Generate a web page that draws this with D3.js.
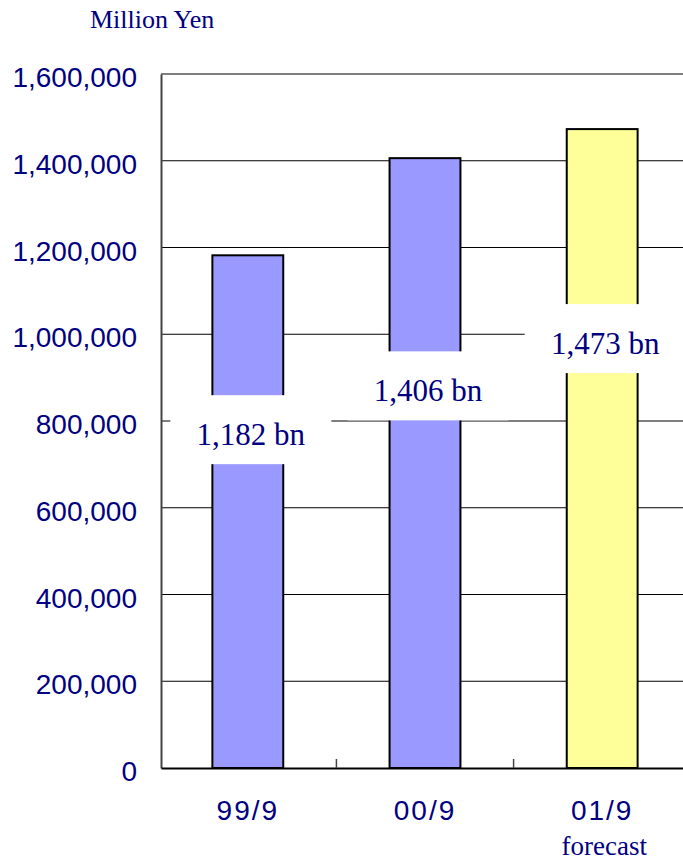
<!DOCTYPE html>
<html>
<head>
<meta charset="utf-8">
<script src="https://cdn.jsdelivr.net/npm/d3@7/dist/d3.min.js"></script>
<style>
  html, body { margin: 0; padding: 0; background: #fff; }
  svg { display: block; }
</style>
</head>
<body>
<svg id="chart" width="683" height="863"></svg>
<script>
// Half-year sales, million yen
const categories = ["99/9", "00/9", "01/9"];
const values = [1182000, 1406000, 1473000];
const valueLabels = ["1,182 bn", "1,406 bn", "1,473 bn"];
const isForecast = [false, false, true];
const yTicks = [0, 200000, 400000, 600000, 800000, 1000000, 1200000, 1400000, 1600000];

// Vertical centre of each value label box, in axis units
const labelCentres = [780000, 881000, 990000];

(function draw() {
  const svg = d3.select("#chart");
  const W = 683, H = 863;
  const plotLeft = 161, plotRight = 689, plotTop = 74, plotBottom = 768;
  const navy = "#000080";

  svg.append("rect").attr("width", W).attr("height", H).attr("fill", "#fff");

  const x = d3.scaleBand().domain(categories).range([plotLeft, plotRight])
    .paddingInner(0.6).paddingOuter(0.29);
  const y = d3.scaleLinear().domain([0, 1600000]).range([plotBottom, plotTop]);

  // gridlines
  svg.append("g").selectAll("line").data(yTicks.filter(d => d > 0)).join("line")
    .attr("x1", plotLeft).attr("x2", plotRight)
    .attr("y1", d => y(d)).attr("y2", d => y(d))
    .attr("stroke", "#000").attr("stroke-width", 1.2);

  // bars
  svg.append("g").selectAll("rect").data(values).join("rect")
    .attr("x", (d, i) => x(categories[i]))
    .attr("width", x.bandwidth())
    .attr("y", d => y(d))
    .attr("height", d => y(0) - y(d))
    .attr("fill", (d, i) => isForecast[i] ? "#ffff99" : "#9999ff")
    .attr("stroke", "#000").attr("stroke-width", 2);

  // value labels on white boxes
  const boxW = 161, boxH = 69;
  const lab = svg.append("g").selectAll("g").data(values).join("g")
    .attr("transform", (d, i) => `translate(${x(categories[i]) + x.bandwidth() / 2 + 3},${y(labelCentres[i])})`);
  lab.append("rect")
    .attr("x", -boxW / 2).attr("y", -boxH / 2)
    .attr("width", boxW).attr("height", boxH).attr("fill", "#fff");
  lab.append("text")
    .attr("text-anchor", "middle").attr("y", 15)
    .attr("font-family", "Liberation Serif, Times New Roman, serif")
    .attr("font-size", 31).attr("fill", navy)
    .text((d, i) => valueLabels[i]);

  // axes
  const yAxis = d3.axisLeft(y).tickValues(yTicks).tickSize(0).tickPadding(24)
    .tickFormat(d3.format(","));
  const gy = svg.append("g").attr("transform", `translate(${plotLeft},0)`).call(yAxis);
  gy.select(".domain").attr("stroke", "#444").attr("stroke-width", 2);
  gy.selectAll("text")
    .attr("font-family", "Liberation Sans, Arial, sans-serif")
    .attr("font-size", 28).attr("fill", navy).attr("dy", "0.45em");

  const xAxis = d3.axisBottom(x).tickSize(0).tickPadding(37);
  const gx = svg.append("g").attr("transform", `translate(0,${plotBottom})`).call(xAxis);
  gx.select(".domain").attr("stroke", "#000").attr("stroke-width", 2);
  gx.selectAll("text")
    .attr("font-family", "Liberation Sans, Arial, sans-serif")
    .attr("font-size", 28).attr("fill", navy).attr("dy", "0.55em")
    .attr("letter-spacing", 2);

  // category boundary tick marks
  svg.append("g").selectAll("line").data(categories.slice(1)).join("line")
    .attr("x1", d => x(d) - x.step() * x.paddingInner() / 2)
    .attr("x2", d => x(d) - x.step() * x.paddingInner() / 2)
    .attr("y1", plotBottom).attr("y2", plotBottom - 9)
    .attr("stroke", "#444").attr("stroke-width", 1.5);

  // forecast note
  svg.append("text")
    .attr("x", x(categories[2]) + x.bandwidth() / 2 + 2).attr("y", 855)
    .attr("text-anchor", "middle")
    .attr("font-family", "Liberation Serif, Times New Roman, serif")
    .attr("font-size", 27).attr("fill", navy)
    .text("forecast");

  // unit label
  svg.append("text")
    .attr("x", 90).attr("y", 28)
    .attr("font-family", "Liberation Serif, Times New Roman, serif")
    .attr("font-size", 26).attr("fill", navy)
    .text("Million Yen");
})();
</script>
</body>
</html>
